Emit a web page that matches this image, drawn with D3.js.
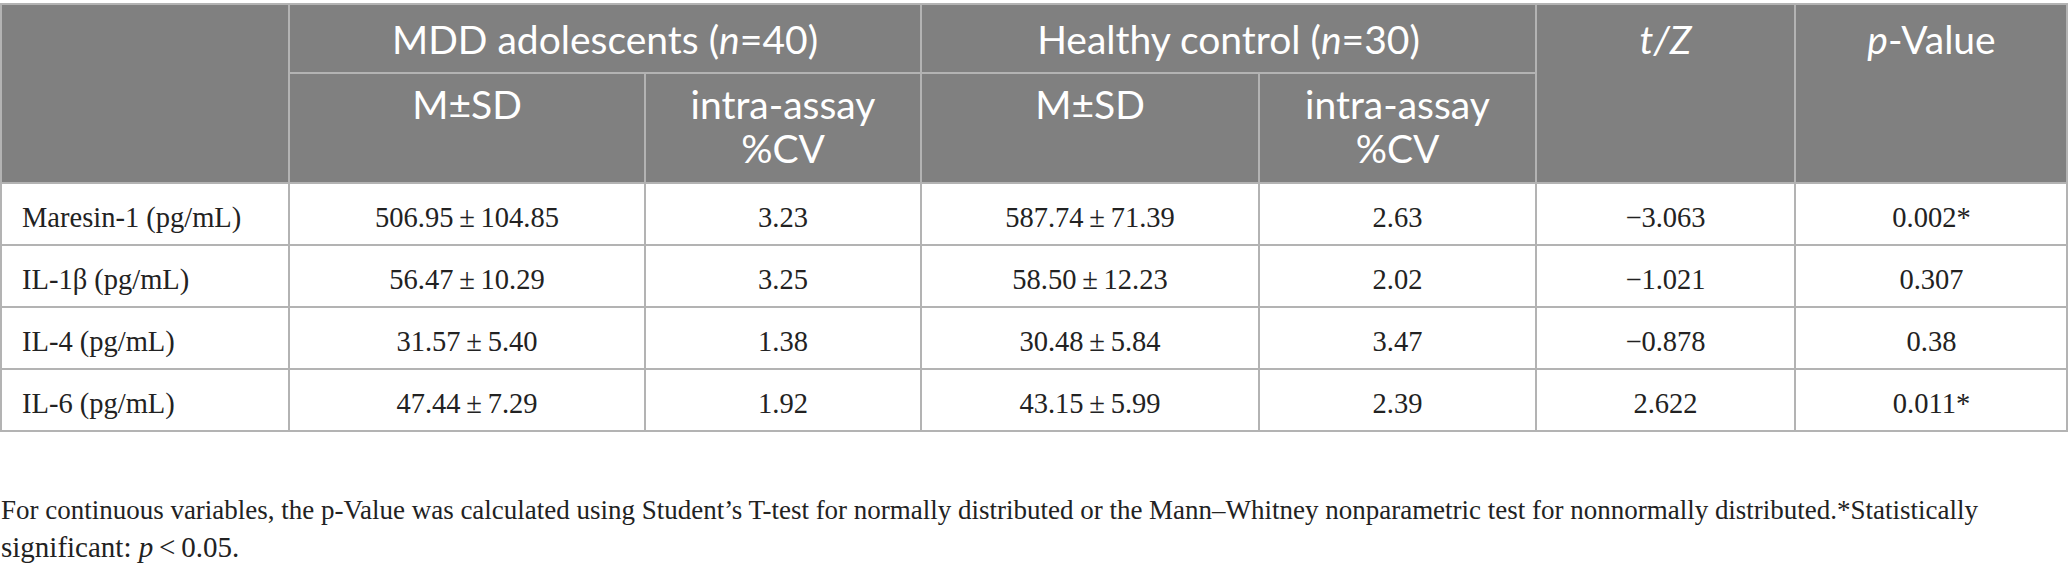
<!DOCTYPE html>
<html>
<head>
<meta charset="utf-8">
<script src="https://cdn.jsdelivr.net/npm/d3@7"></script>
<style>
  body { margin: 0; background: #fff; }
  svg { display: block; }
</style>
</head>
<body>
<svg id="tbl"></svg>
<script>
// table data
var markers = ['Maresin-1 (pg/mL)', 'IL-1\u03b2 (pg/mL)', 'IL-4 (pg/mL)', 'IL-6 (pg/mL)'];
var mddMean = ['506.95', '56.47', '31.57', '47.44'];
var mddSd = ['104.85', '10.29', '5.40', '7.29'];
var mddCv = ['3.23', '3.25', '1.38', '1.92'];
var hcMean = ['587.74', '58.50', '30.48', '43.15'];
var hcSd = ['71.39', '12.23', '5.84', '5.99'];
var hcCv = ['2.63', '2.02', '3.47', '2.39'];
var tz = ['\u22123.063', '\u22121.021', '\u22120.878', '2.622'];
var pValues = ['0.002*', '0.307', '0.38', '0.011*'];

// layout
var width = 2068, height = 571;
var edges = [0, 289, 645, 921, 1259, 1536, 1795, 2068];
var tableTop = 4, groupBottom = 73, headBottom = 183, tableBottom = 431;
var grey = '#808080', line = '#b3b3b3';
var sans = 'Lato, "Open Sans", sans-serif';
var serif = '"Liberation Serif", "DejaVu Serif", serif';

var svg = d3.select('#tbl')
  .attr('width', width)
  .attr('height', height);

// row scale for the body
var y = d3.scaleBand()
  .domain(markers)
  .range([headBottom, tableBottom]);

function mid(i) { return (edges[i] + edges[i + 1]) / 2; }

// header background
svg.append('rect')
  .attr('x', 0)
  .attr('y', tableTop)
  .attr('width', width)
  .attr('height', headBottom - tableTop)
  .style('fill', grey);

// header texts
var head = svg.append('g')
  .style('font-family', sans)
  .style('font-size', '39px')
  .style('fill', '#fff')
  .attr('text-anchor', 'middle');

function headText(x, yy, parts) {
  var t = head.append('text').attr('x', x).attr('y', yy);
  parts.forEach(function(p) {
    t.append('tspan')
      .style('font-style', p[1] ? 'italic' : 'normal')
      .text(p[0]);
  });
}

headText((edges[1] + edges[3]) / 2, 54, [['MDD adolescents ('], ['n', 1], ['=40)']]);
headText((edges[3] + edges[5]) / 2, 54, [['Healthy control ('], ['n', 1], ['=30)']]);
headText(mid(5), 54, [['t/Z', 1]]);
headText(mid(6), 54, [['p', 1], ['-Value']]);
[1, 3].forEach(function(i) {
  headText(mid(i), 119, [['M\u00b1SD']]);
  headText(mid(i + 1), 119, [['intra-assay']]);
  headText(mid(i + 1), 163, [['%CV']]);
});

// body cells
var body = svg.append('g')
  .style('font-family', serif)
  .style('font-size', '28.5px')
  .style('fill', '#222');

var cols = [
  markers,
  mddMean.map(function(m, i) { return m + '\u2009\u00b1\u2009' + mddSd[i]; }),
  mddCv,
  hcMean.map(function(m, i) { return m + '\u2009\u00b1\u2009' + hcSd[i]; }),
  hcCv,
  tz,
  pValues
];

cols.forEach(function(col, c) {
  body.selectAll('text.c' + c)
    .data(col)
    .enter()
    .append('text')
      .attr('class', 'c' + c)
      .attr('x', c === 0 ? 22 : mid(c))
      .attr('y', function(d, i) { return y(markers[i]) + 44; })
      .attr('text-anchor', c === 0 ? 'start' : 'middle')
      .text(function(d) { return d; });
});

// grid lines
var grid = svg.append('g')
  .style('stroke', line)
  .style('stroke-width', 2)
  .style('fill', 'none');

// horizontal
grid.append('line').attr('x1', 0).attr('x2', width).attr('y1', tableTop).attr('y2', tableTop);
grid.append('line').attr('x1', edges[1]).attr('x2', edges[5]).attr('y1', groupBottom).attr('y2', groupBottom);
grid.selectAll('line.row')
  .data(markers)
  .enter()
  .append('line')
    .attr('class', 'row')
    .attr('x1', 0)
    .attr('x2', width)
    .attr('y1', function(d) { return y(d); })
    .attr('y2', function(d) { return y(d); });
grid.append('line').attr('x1', 0).attr('x2', width).attr('y1', tableBottom).attr('y2', tableBottom);

// vertical
var fullCols = [0, 1, 3, 5, 6, 7];
fullCols.forEach(function(i) {
  var xx = Math.min(Math.max(edges[i], 1), width - 1);
  grid.append('line').attr('x1', xx).attr('x2', xx).attr('y1', tableTop).attr('y2', tableBottom);
});
[2, 4].forEach(function(i) {
  grid.append('line').attr('x1', edges[i]).attr('x2', edges[i]).attr('y1', groupBottom).attr('y2', tableBottom);
});

// footnote
var note = svg.append('g')
  .style('font-family', serif)
  .style('font-size', '29px')
  .style('fill', '#222');

var l1 = note.append('text')
  .attr('x', 1)
  .attr('y', 519)
  .text('For continuous variables, the p-Value was calculated using Student\u2019s T-test for normally distributed or the Mann\u2013Whitney nonparametric test for nonnormally distributed.*Statistically');

// shrink the long line so it ends where the reference's does
var natural = l1.node().getComputedTextLength();
if (natural > 1978) {
  l1.style('font-size', (29 * 1978 / natural) + 'px');
}

var n2 = note.append('text')
  .attr('x', 1)
  .attr('y', 557);
n2.append('tspan').text('significant: ');
n2.append('tspan').style('font-style', 'italic').text('p');
n2.append('tspan').text('\u2009<\u20090.05.');
</script>
</body>
</html>
